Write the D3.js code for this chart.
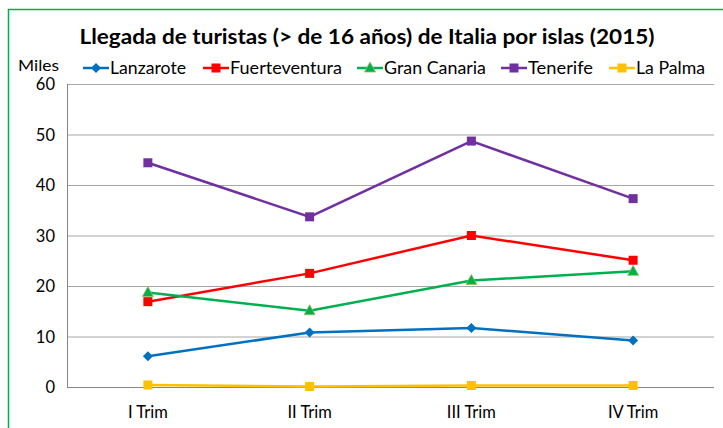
<!DOCTYPE html>
<html><head><meta charset="utf-8">
<script src="https://cdn.jsdelivr.net/npm/d3@7"></script>
<style>body{margin:0;background:#fff}svg{display:block}text{font-family:Lato,"Open Sans",sans-serif}</style>
</head><body>
<svg id="c" width="723" height="428"></svg>
<script>
const categories = ["I Trim","II Trim","III Trim","IV Trim"];
const seriesNames = ["Lanzarote","Fuerteventura","Gran Canaria","Tenerife","La Palma"];
const lanzarote = [6.1, 10.8, 11.7, 9.2];
const fuerteventura = [16.9, 22.5, 30.0, 25.1];
const granCanaria = [18.7, 15.1, 21.1, 22.9];
const tenerife = [44.4, 33.7, 48.7, 37.3];
const laPalma = [0.4, 0.1, 0.3, 0.3];
const yTicks = [0,10,20,30,40,50,60];
const colors = ["#0070C0","#FF0000","#00B050","#7030A0","#FFC000"];
const markers = ["diamond","square","triangle","square","square"];
const values = [lanzarote, fuerteventura, granCanaria, tenerife, laPalma];

const svg = d3.select("#c");
svg.append("path").attr("d","M8.5,428 V9.5 H723").attr("fill","none").attr("stroke","#00B050").attr("stroke-width",1.5);

const L=67, R=714, T=84, B=387;
const x = d3.scaleBand().domain(categories).range([L,R]);
const y = d3.scaleLinear().domain([0,60]).range([B,T]);

svg.append("g").selectAll("line").data(yTicks).join("line")
  .attr("x1",L).attr("x2",R).attr("y1",d=>y(d)+0.5).attr("y2",d=>y(d)+0.5)
  .attr("stroke","#A6A6A6").attr("stroke-width",1);
svg.append("line").attr("x1",L+0.5).attr("x2",L+0.5).attr("y1",T).attr("y2",B+0.5).attr("stroke","#868686");
svg.append("line").attr("x1",L).attr("x2",R).attr("y1",B+0.5).attr("y2",B+0.5).attr("stroke","#868686");

svg.append("g").selectAll("text").data(yTicks).join("text")
  .attr("x",55).attr("y",d=>y(d)+6).attr("text-anchor","end")
  .attr("font-size",16.5).attr("fill","#000").text(d=>d);
svg.append("g").selectAll("text").data(categories).join("text")
  .attr("x",d=>x(d)+x.bandwidth()/2).attr("y",418).attr("text-anchor","middle")
  .attr("font-size",16.5).attr("fill","#000").text(d=>d);

svg.append("text").attr("x",367).attr("y",44).attr("text-anchor","middle")
  .attr("font-size",20).attr("font-weight","bold").attr("fill","#000")
  .attr("textLength",575).attr("lengthAdjust","spacingAndGlyphs")
  .text("Llegada de turistas (> de 16 años) de Italia por islas (2015)");
svg.append("text").attr("x",18).attr("y",71).attr("font-size",16).attr("fill","#000")
  .attr("textLength",41).attr("lengthAdjust","spacingAndGlyphs").text("Miles");

function marker(g, type, cx, cy, color){
  if(type==="square"){
    g.append("rect").attr("x",cx-4.5).attr("y",cy-4.5).attr("width",9).attr("height",9).attr("fill",color);
  } else if(type==="diamond"){
    g.append("path").attr("d",`M${cx},${cy-5}L${cx+5},${cy}L${cx},${cy+5}L${cx-5},${cy}Z`).attr("fill",color);
  } else {
    g.append("path").attr("d",`M${cx},${cy-6}L${cx+5.5},${cy+4}L${cx-5.5},${cy+4}Z`).attr("fill",color).attr("stroke","#9BBB59").attr("stroke-width",0.8);
  }
}

const line = d3.line().x((d,i)=>x(categories[i])+x.bandwidth()/2).y(d=>y(d));
values.forEach((vals,si)=>{
  const g = svg.append("g");
  g.append("path").attr("d",line(vals)).attr("fill","none").attr("stroke",colors[si]).attr("stroke-width",2.5);
  vals.forEach((v,i)=>marker(g, markers[si], x(categories[i])+x.bandwidth()/2, y(v), colors[si]));
});

const legX = [83,203,357,501,609];
const legW = [76,112,102,65,69];
const ly = 68;
seriesNames.forEach((n,i)=>{
  const g = svg.append("g");
  g.append("line").attr("x1",legX[i]).attr("x2",legX[i]+26).attr("y1",ly).attr("y2",ly).attr("stroke",colors[i]).attr("stroke-width",2.5);
  marker(g, markers[i], legX[i]+13, ly, colors[i]);
  g.append("text").attr("x",legX[i]+27).attr("y",ly+6).attr("font-size",16.5).attr("fill","#000")
    .attr("textLength",legW[i]).attr("lengthAdjust","spacingAndGlyphs").text(n);
});
</script>
</body></html>
